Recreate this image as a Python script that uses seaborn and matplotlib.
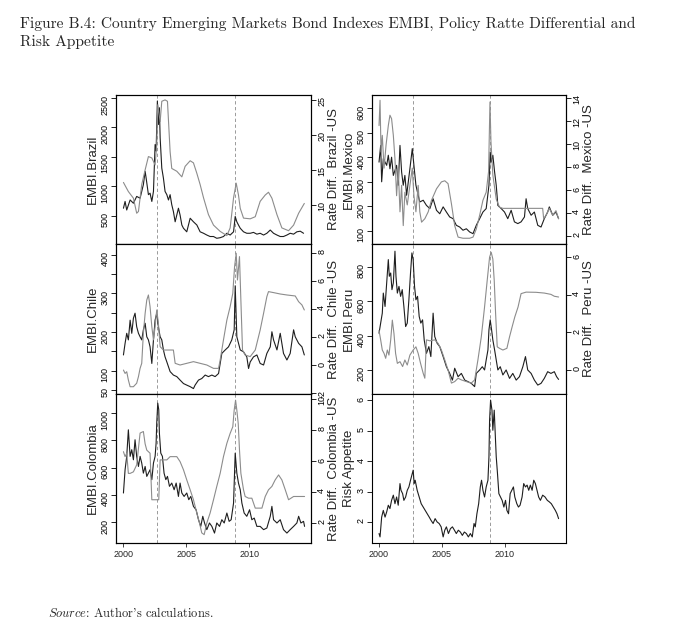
import matplotlib
matplotlib.use("Agg")
import matplotlib.pyplot as plt
import seaborn as sns

# ---------------- data (year, value) ----------------
brazil_embi = [(2000.03, 630), (2000.16, 745), (2000.29, 600), (2000.56, 770), (2000.82, 715), (2001.08, 830),
               (2001.35, 800), (2001.48, 915), (2001.61, 1030), (2001.75, 1255), (2001.83, 1140), (2002.01, 860),
               (2002.14, 885), (2002.28, 745), (2002.41, 915), (2002.54, 1710), (2002.62, 1600), (2002.72, 2450),
               (2002.80, 2050), (2002.88, 2335), (2002.94, 1825), (2003.07, 1310), (2003.20, 1140), (2003.33, 915),
               (2003.47, 860), (2003.60, 770), (2003.73, 860), (2003.86, 690), (2003.99, 575), (2004.13, 400),
               (2004.26, 515), (2004.39, 630), (2004.52, 515), (2004.66, 345), (2004.79, 290), (2005.05, 230),
               (2005.32, 460), (2005.58, 400), (2005.85, 345), (2006.11, 230), (2006.38, 205), (2006.64, 175),
               (2006.90, 150), (2007.17, 150), (2007.43, 120), (2007.70, 130), (2007.96, 150), (2008.23, 205),
               (2008.49, 175), (2008.76, 230), (2008.89, 490), (2009.02, 400), (2009.15, 345), (2009.29, 290),
               (2009.55, 230), (2009.81, 205), (2010.08, 205), (2010.34, 220), (2010.61, 190), (2010.87, 205),
               (2011.14, 175), (2011.40, 205), (2011.67, 260), (2011.93, 205), (2012.20, 175), (2012.46, 150),
               (2012.72, 150), (2012.99, 175), (2013.25, 205), (2013.52, 190), (2013.78, 230), (2014.05, 240),
               (2014.31, 205)]
brazil_rate = [(2000.03, 13.2), (2000.42, 11.9), (2000.82, 10.95), (2001.08, 8.8), (2001.22, 9.05), (2001.48, 12.9),
               (2001.75, 15.0), (2002.01, 16.9), (2002.28, 16.7), (2002.54, 15.7), (2002.67, 18.6), (2002.75, 24.3),
               (2002.94, 21.9), (2003.07, 24.8), (2003.33, 25.0), (2003.52, 24.8), (2003.62, 21.4), (2003.73, 17.6),
               (2003.86, 15.2), (2004.26, 14.8), (2004.66, 14.0), (2004.92, 15.5), (2005.32, 16.3), (2005.58, 16.0),
               (2005.85, 14.5), (2006.11, 12.9), (2006.38, 11.0), (2006.77, 8.6), (2007.17, 7.1), (2007.70, 6.2),
               (2008.23, 5.6), (2008.49, 6.7), (2008.76, 11.0), (2008.97, 13.1), (2009.15, 11.4), (2009.29, 9.5),
               (2009.55, 8.1), (2010.08, 8.0), (2010.48, 8.3), (2010.87, 10.5), (2011.27, 11.4), (2011.53, 11.8),
               (2011.80, 10.95), (2012.20, 8.6), (2012.59, 6.7), (2013.12, 6.3), (2013.52, 7.1), (2013.92, 8.8),
               (2014.37, 10.2)]

mexico_embi = [(2000.00, 380), (2000.13, 448), (2000.21, 300), (2000.34, 394), (2000.61, 367), (2000.74, 408),
               (2000.87, 353), (2001.00, 400), (2001.14, 326), (2001.40, 367), (2001.53, 286), (2001.67, 448),
               (2001.80, 340), (2001.93, 286), (2002.06, 326), (2002.20, 245), (2002.46, 353), (2002.65, 435),
               (2002.78, 367), (2002.94, 286), (2003.12, 245), (2003.25, 218), (2003.52, 225), (2003.78, 204),
               (2004.05, 191), (2004.31, 231), (2004.58, 184), (2004.84, 170), (2005.11, 198), (2005.37, 177),
               (2005.63, 157), (2005.90, 150), (2006.16, 123), (2006.43, 116), (2006.69, 103), (2006.96, 109),
               (2007.22, 96), (2007.49, 89), (2007.75, 123), (2008.02, 150), (2008.28, 177), (2008.54, 191),
               (2008.76, 286), (2008.86, 421), (2008.94, 380), (2009.07, 408), (2009.21, 340), (2009.34, 286),
               (2009.47, 204), (2009.74, 191), (2010.00, 177), (2010.26, 150), (2010.53, 184), (2010.79, 137),
               (2011.06, 130), (2011.32, 137), (2011.59, 157), (2011.72, 231), (2011.85, 191), (2012.12, 164),
               (2012.38, 177), (2012.65, 123), (2012.91, 116), (2013.17, 150), (2013.44, 177), (2013.57, 198),
               (2013.84, 164), (2014.10, 177), (2014.31, 150)]
mexico_rate = [(2000.00, 11.6), (2000.08, 13.8), (2000.16, 9.3), (2000.26, 10.75), (2000.40, 7.9), (2000.56, 9.9),
               (2000.74, 11.6), (2000.87, 12.5), (2001.00, 12.2), (2001.14, 10.75), (2001.27, 8.7), (2001.40, 5.5),
               (2001.53, 7.9), (2001.67, 4.1), (2001.80, 6.4), (2001.93, 2.9), (2002.06, 5.8), (2002.25, 4.7),
               (2002.46, 6.4), (2002.65, 7.9), (2002.78, 5.5), (2002.94, 4.1), (2003.12, 6.4), (2003.25, 4.1),
               (2003.39, 3.2), (2003.65, 3.5), (2003.92, 4.1), (2004.18, 5.1), (2004.58, 6.1), (2004.97, 6.7),
               (2005.24, 6.8), (2005.50, 6.55), (2005.77, 4.8), (2006.03, 2.9), (2006.30, 1.9), (2006.69, 1.8),
               (2007.22, 1.8), (2007.49, 1.9), (2007.75, 2.6), (2008.02, 3.8), (2008.28, 5.1), (2008.54, 5.8),
               (2008.73, 7.6), (2008.84, 13.65), (2008.92, 10.2), (2009.07, 7.3), (2009.34, 5.2), (2009.60, 4.5),
               (2009.87, 4.4), (2013.04, 4.4), (2013.12, 3.5), (2013.31, 3.8), (2013.57, 4.4), (2013.84, 3.8),
               (2014.10, 4.2), (2014.31, 3.5)]

chile_embi = [(2000.03, 141), (2000.16, 171), (2000.29, 197), (2000.42, 180), (2000.56, 231), (2000.69, 197),
              (2000.82, 236), (2000.95, 249), (2001.08, 214), (2001.22, 197), (2001.35, 188), (2001.48, 180),
              (2001.61, 206), (2001.75, 223), (2001.88, 188), (2002.01, 180), (2002.14, 162), (2002.28, 119),
              (2002.41, 180), (2002.54, 231), (2002.67, 249), (2002.80, 214), (2002.94, 188), (2003.07, 180),
              (2003.20, 154), (2003.33, 136), (2003.47, 123), (2003.73, 98), (2003.99, 89), (2004.26, 85),
              (2004.52, 76), (2004.79, 67), (2005.05, 63), (2005.32, 59), (2005.58, 54), (2005.71, 63),
              (2005.98, 76), (2006.24, 80), (2006.51, 89), (2006.77, 85), (2007.04, 89), (2007.30, 85),
              (2007.57, 93), (2007.83, 145), (2008.10, 154), (2008.36, 162), (2008.62, 180), (2008.81, 206),
              (2008.89, 320), (2008.95, 260), (2009.02, 188), (2009.29, 154), (2009.55, 149), (2009.81, 136),
              (2009.95, 106), (2010.08, 123), (2010.34, 136), (2010.61, 141), (2010.87, 119), (2011.14, 115),
              (2011.40, 145), (2011.67, 162), (2011.80, 201), (2011.93, 180), (2012.20, 154), (2012.46, 197),
              (2012.72, 145), (2012.99, 128), (2013.25, 145), (2013.52, 206), (2013.65, 188), (2013.92, 171),
              (2014.18, 162), (2014.37, 141)]
chile_rate = [(2000.03, -0.36), (2000.16, -0.6), (2000.29, -0.48), (2000.42, -1.07), (2000.56, -1.55), (2000.82, -1.55),
              (2001.08, -1.3), (2001.22, -0.83), (2001.35, -0.24), (2001.48, 0.12), (2001.61, 2.26), (2001.75, 3.69),
              (2001.88, 4.64), (2002.01, 5.0), (2002.14, 4.17), (2002.28, 2.74), (2002.41, 1.79), (2002.54, 2.74),
              (2002.67, 3.93), (2002.80, 2.98), (2002.94, 1.31), (2003.20, 1.07), (2003.47, 1.07), (2003.99, 1.07),
              (2004.13, 0.12), (2004.52, 0.0), (2005.05, 0.12), (2005.58, 0.24), (2006.11, 0.12), (2006.64, 0.0),
              (2007.17, -0.24), (2007.57, -0.24), (2007.70, 0.36), (2007.96, 1.79), (2008.23, 3.21), (2008.49, 4.17),
              (2008.70, 5.12), (2008.84, 7.02), (2008.97, 7.98), (2009.07, 6.07), (2009.23, 7.74), (2009.34, 4.64),
              (2009.47, 1.07), (2009.68, 0.71), (2010.08, 0.6), (2010.48, 1.07), (2010.87, 2.5), (2011.14, 3.69),
              (2011.40, 4.88), (2011.53, 5.24), (2011.93, 5.17), (2012.46, 5.07), (2012.99, 5.0), (2013.65, 4.93),
              (2013.92, 4.52), (2014.18, 4.29), (2014.37, 3.93)]

peru_embi = [(2000.00, 414), (2000.13, 473), (2000.26, 531), (2000.34, 648), (2000.48, 570), (2000.61, 707),
             (2000.74, 843), (2000.82, 746), (2000.93, 765), (2001.03, 668), (2001.14, 707), (2001.27, 892),
             (2001.35, 746), (2001.46, 648), (2001.59, 687), (2001.72, 629), (2001.85, 668), (2001.98, 570),
             (2002.12, 453), (2002.25, 473), (2002.38, 609), (2002.51, 765), (2002.62, 882), (2002.72, 843),
             (2002.83, 687), (2002.94, 609), (2003.07, 629), (2003.20, 512), (2003.33, 473), (2003.47, 492),
             (2003.60, 375), (2003.78, 297), (2003.97, 336), (2004.13, 278), (2004.31, 531), (2004.44, 395),
             (2004.63, 356), (2004.84, 336), (2005.11, 278), (2005.37, 219), (2005.63, 180), (2005.85, 141),
             (2006.03, 210), (2006.30, 161), (2006.56, 180), (2006.83, 141), (2007.09, 132), (2007.35, 122),
             (2007.62, 103), (2007.75, 180), (2008.02, 200), (2008.23, 219), (2008.41, 200), (2008.54, 258),
             (2008.68, 317), (2008.76, 434), (2008.86, 492), (2008.97, 434), (2009.07, 375), (2009.21, 317),
             (2009.34, 258), (2009.47, 200), (2009.66, 219), (2009.87, 171), (2010.13, 200), (2010.40, 151),
             (2010.66, 180), (2010.93, 141), (2011.19, 161), (2011.46, 219), (2011.67, 278), (2011.85, 200),
             (2012.12, 180), (2012.38, 141), (2012.65, 112), (2012.91, 122), (2013.17, 151), (2013.44, 190),
             (2013.70, 180), (2013.97, 190), (2014.15, 161), (2014.31, 145)]
peru_rate = [(2000.00, 2.1), (2000.13, 1.6), (2000.26, 1.06), (2000.40, 0.88), (2000.53, 0.62), (2000.66, 1.06),
             (2000.79, 0.79), (2000.93, 1.6), (2001.06, 2.65), (2001.19, 1.94), (2001.32, 0.88), (2001.46, 0.35),
             (2001.67, 0.44), (2001.88, 0.18), (2002.06, 0.53), (2002.25, 0.26), (2002.46, 0.79), (2002.72, 1.06),
             (2002.94, 1.23), (2003.12, 0.88), (2003.31, 0.35), (2003.52, -0.18), (2003.65, -0.44), (2003.78, 1.6),
             (2004.05, 1.55), (2004.44, 1.6), (2004.71, 1.41), (2004.97, 1.06), (2005.24, 0.53), (2005.50, 0.0),
             (2005.77, -0.7), (2006.03, -0.62), (2006.30, -0.44), (2006.56, -0.53), (2006.96, -0.62), (2007.35, -0.7),
             (2007.62, -0.53), (2007.88, 0.53), (2008.15, 1.76), (2008.41, 3.35), (2008.62, 4.76), (2008.81, 6.0),
             (2008.94, 6.26), (2009.07, 5.9), (2009.18, 4.76), (2009.29, 3.0), (2009.42, 1.23), (2009.60, 1.15),
             (2009.87, 1.06), (2010.19, 1.15), (2010.40, 1.76), (2010.61, 2.3), (2010.82, 2.82), (2011.08, 3.35),
             (2011.32, 4.06), (2011.72, 4.14), (2012.51, 4.13), (2013.17, 4.09), (2013.70, 4.02), (2013.97, 3.92),
             (2014.31, 3.88)]

colombia_embi = [(2000.03, 413), (2000.16, 584), (2000.29, 682), (2000.42, 877), (2000.56, 682), (2000.69, 731),
                 (2000.82, 657), (2000.95, 804), (2001.08, 682), (2001.22, 608), (2001.35, 682), (2001.48, 633),
                 (2001.61, 559), (2001.75, 608), (2001.88, 535), (2002.01, 559), (2002.14, 584), (2002.28, 511),
                 (2002.41, 633), (2002.54, 682), (2002.62, 779), (2002.67, 926), (2002.75, 1073), (2002.83, 1024),
                 (2002.88, 853), (2002.99, 706), (2003.12, 682), (2003.25, 559), (2003.39, 511), (2003.52, 535),
                 (2003.68, 462), (2003.86, 486), (2004.05, 437), (2004.21, 486), (2004.39, 388), (2004.52, 486),
                 (2004.66, 413), (2004.84, 388), (2005.05, 413), (2005.21, 364), (2005.37, 388), (2005.58, 315),
                 (2005.79, 290), (2005.98, 217), (2006.16, 168), (2006.32, 242), (2006.46, 193), (2006.64, 144),
                 (2006.85, 193), (2007.04, 168), (2007.25, 119), (2007.43, 193), (2007.65, 168), (2007.83, 217),
                 (2008.02, 193), (2008.23, 266), (2008.41, 205), (2008.57, 217), (2008.76, 339), (2008.89, 706),
                 (2009.02, 559), (2009.15, 486), (2009.29, 437), (2009.42, 339), (2009.60, 266), (2009.81, 242),
                 (2010.03, 290), (2010.21, 217), (2010.40, 229), (2010.61, 168), (2010.87, 168), (2011.14, 144),
                 (2011.40, 156), (2011.67, 242), (2011.80, 315), (2011.93, 217), (2012.20, 193), (2012.46, 217),
                 (2012.72, 144), (2012.99, 119), (2013.25, 144), (2013.52, 168), (2013.78, 193), (2013.92, 242),
                 (2014.10, 193), (2014.31, 205), (2014.39, 168)]
colombia_rate = [(2000.03, 6.6), (2000.16, 6.28), (2000.29, 6.5), (2000.42, 5.2), (2000.56, 5.2), (2000.82, 5.3),
                 (2001.08, 5.75), (2001.35, 7.8), (2001.61, 7.9), (2001.75, 7.1), (2001.88, 6.7), (2002.01, 6.6),
                 (2002.14, 6.5), (2002.28, 3.5), (2002.54, 3.5), (2002.83, 3.5), (2002.94, 6.07), (2003.47, 6.07),
                 (2003.73, 6.28), (2004.26, 6.28), (2004.52, 5.96), (2004.79, 5.43), (2005.05, 4.78), (2005.32, 4.14),
                 (2005.58, 3.5), (2005.85, 2.64), (2006.06, 2.0), (2006.24, 1.36), (2006.43, 1.25), (2006.64, 2.0),
                 (2006.90, 2.64), (2007.17, 3.5), (2007.43, 4.36), (2007.70, 5.21), (2007.96, 6.28), (2008.23, 7.14),
                 (2008.49, 7.78), (2008.70, 8.21), (2008.81, 9.28), (2008.92, 9.92), (2009.02, 9.28), (2009.13, 8.42),
                 (2009.23, 6.71), (2009.34, 5.21), (2009.55, 4.14), (2009.68, 3.71), (2009.95, 3.6), (2010.21, 3.6),
                 (2010.48, 2.96), (2011.01, 2.96), (2011.27, 3.71), (2011.53, 4.14), (2011.80, 4.36), (2012.06, 4.78),
                 (2012.33, 5.1), (2012.59, 4.78), (2012.86, 4.14), (2013.12, 3.5), (2013.52, 3.71), (2014.39, 3.71)]

risk_appetite = [(2000.00, 1.62), (2000.08, 1.51), (2000.21, 2.16), (2000.34, 2.38), (2000.48, 2.16), (2000.61, 2.33),
                 (2000.74, 2.55), (2000.87, 2.44), (2001.00, 2.71), (2001.14, 2.88), (2001.27, 2.6), (2001.40, 2.82),
                 (2001.53, 2.55), (2001.67, 3.26), (2001.75, 3.04), (2001.88, 2.93), (2001.98, 2.71), (2002.12, 2.82),
                 (2002.25, 3.04), (2002.38, 3.15), (2002.51, 3.37), (2002.65, 3.59), (2002.72, 3.7), (2002.80, 3.26),
                 (2002.88, 3.37), (2003.04, 3.04), (2003.20, 2.82), (2003.36, 2.6), (2003.52, 2.49), (2003.68, 2.38),
                 (2003.84, 2.27), (2004.00, 2.16), (2004.15, 2.05), (2004.31, 1.95), (2004.47, 2.11), (2004.63, 2.0),
                 (2004.79, 1.95), (2004.95, 1.84), (2005.11, 1.51), (2005.24, 1.73), (2005.37, 1.84), (2005.53, 1.62),
                 (2005.69, 1.78), (2005.85, 1.84), (2006.01, 1.73), (2006.16, 1.62), (2006.32, 1.73), (2006.48, 1.67),
                 (2006.64, 1.56), (2006.80, 1.67), (2006.96, 1.62), (2007.12, 1.51), (2007.28, 1.62), (2007.43, 1.51),
                 (2007.57, 1.95), (2007.67, 1.84), (2007.80, 2.27), (2007.94, 2.6), (2008.07, 3.15), (2008.17, 3.37),
                 (2008.28, 3.04), (2008.41, 2.82), (2008.54, 3.15), (2008.68, 3.37), (2008.76, 4.14), (2008.81, 5.34),
                 (2008.89, 6.0), (2009.00, 5.67), (2009.07, 5.01), (2009.18, 5.67), (2009.26, 4.9), (2009.34, 4.14),
                 (2009.44, 3.59), (2009.55, 2.93), (2009.68, 2.82), (2009.81, 2.71), (2009.95, 2.49), (2010.08, 2.71),
                 (2010.19, 2.38), (2010.32, 2.27), (2010.45, 2.93), (2010.58, 3.04), (2010.71, 3.15), (2010.82, 2.82),
                 (2010.98, 2.6), (2011.11, 2.49), (2011.24, 2.55), (2011.40, 2.82), (2011.53, 3.26), (2011.67, 3.15),
                 (2011.80, 3.21), (2011.93, 3.04), (2012.06, 3.21), (2012.20, 3.04), (2012.33, 3.37), (2012.46, 3.26),
                 (2012.59, 3.04), (2012.72, 2.82), (2012.86, 2.71), (2013.04, 2.88), (2013.23, 2.82), (2013.41, 2.71),
                 (2013.57, 2.66), (2013.73, 2.6), (2013.89, 2.49), (2014.05, 2.38), (2014.18, 2.27), (2014.31, 2.11)]

event_years = [2002.72, 2008.87]
x_tick_years = [2000, 2005, 2010]

# ---------------- style ----------------
sns.set_style("ticks")
plt.rcParams['font.family'] = ['Liberation Sans', 'DejaVu Sans']
plt.rcParams['axes.unicode_minus'] = False
plt.rcParams['mathtext.fontset'] = 'cm'

BLACK = '#1e1e1e'
GREY = '#8c8c8c'
TICK_FS = 6.5
LAB_FS = 9.5
XLIM = (1999.44, 2014.9)

W, H = 673.0, 632.0
fig = plt.figure(figsize=(6.73, 6.32), dpi=100)

col_x = [(116 / W, 195 / W), (372 / W, 194 / W)]
row_y = [(1 - 244 / H, 149 / H), (1 - 394 / H, 150 / H), (1 - 543 / H, 149 / H)]

panels = [
    dict(r=0, c=0, left=brazil_embi, lylim=(23, 2551), lticks=[500, 1000, 1500, 2000, 2500], llabels=None,
         lname='EMBI.Brazil', right=brazil_rate, rylim=(4.4, 25.7), rticks=[10, 15, 20, 25],
         rname='Rate Diff.  Brazil -US'),
    dict(r=0, c=1, left=mexico_embi, lylim=(47, 653), lticks=[100, 200, 300, 400, 500, 600], llabels=None,
         lname='EMBI.Mexico', right=mexico_rate, rylim=(1.3, 14.26), rticks=[2, 4, 6, 8, 10, 12, 14],
         rname='Rate Diff.  Mexico -US'),
    dict(r=1, c=0, left=chile_embi, lylim=(40, 428), lticks=[50, 100, 150, 200, 250, 300, 350, 400],
         llabels=['50', '100', '', '200', '', '300', '', '400'],
         lname='EMBI.Chile', right=chile_rate, rylim=(-2.07, 8.64), rticks=[-2, 0, 2, 4, 6, 8],
         rname='Rate Diff.  Chile -US'),
    dict(r=1, c=1, left=peru_embi, lylim=(60, 934), lticks=[200, 400, 600, 800], llabels=None,
         lname='EMBI.Peru', right=peru_rate, rylim=(-1.28, 6.7), rticks=[0, 2, 4, 6],
         rname='Rate Diff.  Peru -US'),
    dict(r=2, c=0, left=colombia_embi, lylim=(46, 1140), lticks=[200, 400, 600, 800, 1000], llabels=None,
         lname='EMBI.Colombia', right=colombia_rate, rylim=(0.71, 10.32), rticks=[2, 4, 6, 8, 10],
         rname='Rate Diff.  Colombia -US'),
    dict(r=2, c=1, left=risk_appetite, lylim=(1.31, 6.2), lticks=[2, 3, 4, 5, 6], llabels=None,
         lname='Risk Appetite', right=None),
]


def style(ax):
    for s in ax.spines.values():
        s.set_color('black')
        s.set_linewidth(0.8)
        s.set_visible(True)


def draw(ax, series, color):
    t = [p[0] for p in series]
    v = [p[1] for p in series]
    sns.lineplot(x=t, y=v, ax=ax, color=color, linewidth=0.8, estimator=None, sort=False)


for p in panels:
    x0, w = col_x[p['c']]
    y0, h = row_y[p['r']]
    ax = fig.add_axes([x0, y0, w, h])
    draw(ax, p['left'], BLACK)
    for ev in event_years:
        ax.axvline(ev, color='#8a8a8a', linewidth=0.6, linestyle=(0, (4, 3)), zorder=1)
    ax.set_xlim(*XLIM)
    ax.set_ylim(*p['lylim'])
    ax.set_yticks(p['lticks'])
    if p['llabels'] is not None:
        ax.set_yticklabels(p['llabels'])
    else:
        ax.set_yticklabels([str(v) for v in p['lticks']])
    ax.tick_params(axis='y', left=True, right=False, length=3.5, width=0.6, pad=1,
                   labelsize=TICK_FS, labelrotation=90, colors='black')
    ax.set_ylabel(p['lname'], fontsize=LAB_FS, labelpad=1)
    if p['r'] == 2:
        ax.set_xticks(x_tick_years)
        ax.set_xticklabels([str(v) for v in x_tick_years])
        ax.tick_params(axis='x', bottom=True, length=3, width=0.6, pad=2, labelsize=TICK_FS)
    else:
        ax.set_xticks([])
        ax.tick_params(axis='x', bottom=False, labelbottom=False)
    ax.set_xlabel('')
    style(ax)

    if p['right'] is not None:
        ax2 = ax.twinx()
        draw(ax2, p['right'], GREY)
        ax2.set_xlim(*XLIM)
        ax2.set_ylim(*p['rylim'])
        ax2.set_yticks(p['rticks'])
        ax2.set_yticklabels([str(v) for v in p['rticks']])
        ax2.tick_params(axis='y', right=True, left=False, length=3.5, width=0.6, pad=1,
                        labelsize=TICK_FS, labelrotation=90, colors='black')
        ax2.set_ylabel(p['rname'], fontsize=LAB_FS, labelpad=1)
        ax2.set_xlabel('')
        style(ax2)

# ---------------- captions ----------------
fig.text(20 / W, 1 - 28 / H,
         'Figure B.4: Country Emerging Markets Bond Indexes EMBI, Policy Ratte Differential and',
         fontfamily='cmr10', fontsize=11.1, ha='left', va='baseline')
fig.text(20 / W, 1 - 46 / H, 'Risk Appetite',
         fontfamily='cmr10', fontsize=11.1, ha='left', va='baseline')
fig.text(48 / W, 1 - 617 / H, r"$\mathit{Source}$: Author's calculations.",
         fontfamily='cmr10', fontsize=9, ha='left', va='baseline')

fig.savefig('out.png', dpi=100)
